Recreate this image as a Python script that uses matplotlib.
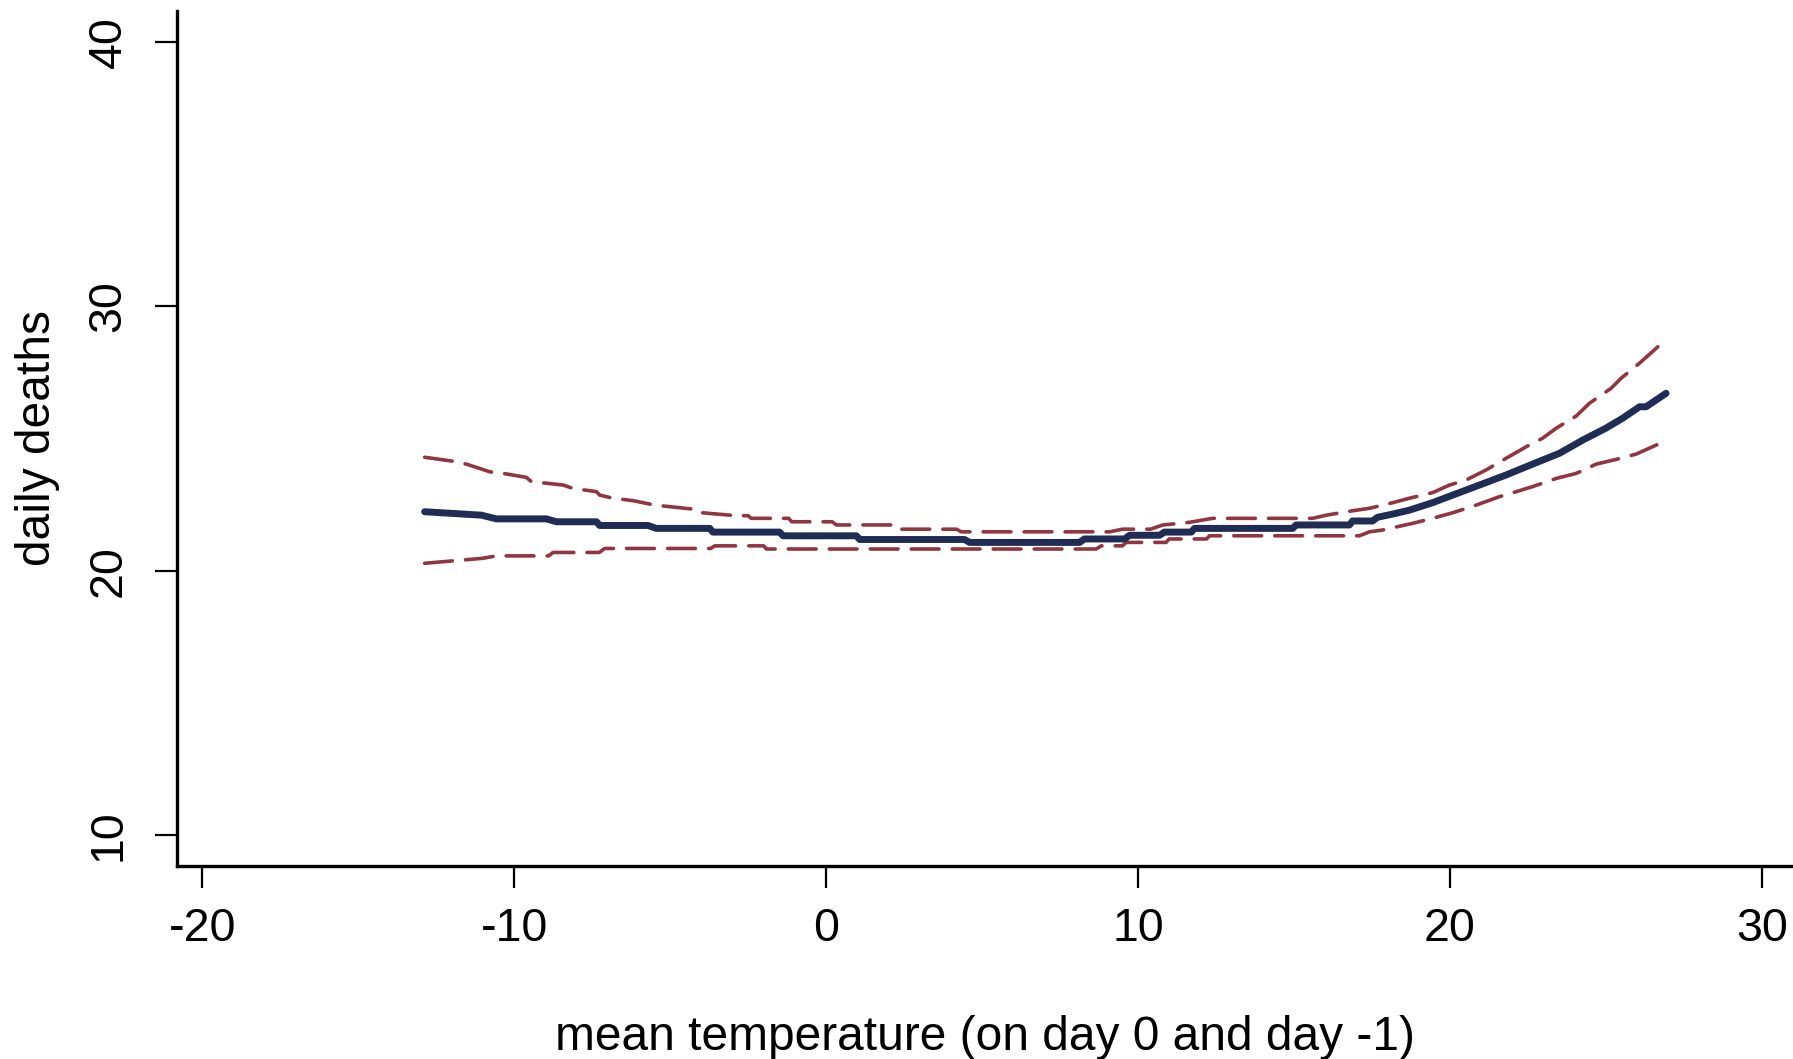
import matplotlib
matplotlib.use("Agg")
import matplotlib.pyplot as plt

plt.rcParams['font.family'] = ['Liberation Sans', 'DejaVu Sans']
plt.rcParams['axes.unicode_minus'] = False
plt.rcParams['lines.scale_dashes'] = False

# fitted curve
fit_x = [-12.87, -11.05, -10.57, -8.97, -8.64, -7.36, -7.26, -5.71, -5.44, -3.73, -3.63, -1.49,
         -1.38, 0.97, 1.08, 4.44, 4.60, 8.13, 8.28, 9.57, 9.73, 10.69, 10.85, 11.71, 11.81, 14.96,
         15.07, 16.78, 16.88, 17.52, 17.68, 18.16, 18.7, 19.44, 20.09, 20.95, 21.8, 22.65, 23.51,
         24.26, 25.0, 25.53, 26.08, 26.29, 26.93]
fit_y = [22.23, 22.10, 21.96, 21.96, 21.85, 21.85, 21.71, 21.71, 21.60, 21.60, 21.46, 21.46,
         21.32, 21.32, 21.18, 21.18, 21.07, 21.07, 21.20, 21.20, 21.34, 21.34, 21.46, 21.46, 21.60,
         21.60, 21.73, 21.73, 21.88, 21.88, 22.02, 22.14, 22.29, 22.57, 22.86, 23.24, 23.62, 24.03,
         24.44, 24.94, 25.39, 25.76, 26.2, 26.2, 26.71]

# upper confidence bound
up_x = [-12.87, -12.01, -11.53, -10.78, -10.25, -9.61, -9.45, -8.43, -8.11, -7.36, -7.26, -6.83,
        -6.19, -5.49, -4.27, -4.16, -2.88, -2.5, -2.4, -1.2, -1.1, 0.2, 0.33, 2.14, 2.25, 4.18,
        4.34, 9.09, 9.5, 10.4, 10.8, 11.65, 12.39, 15.6, 16.04, 16.68, 17.42, 18.16, 18.7, 19.44,
        19.99, 20.52, 21.16, 21.8, 22.45, 22.97, 23.41, 24.05, 24.47, 25.17, 25.49, 26.08, 26.5,
        26.93]
up_y = [24.29, 24.15, 24.03, 23.74, 23.66, 23.53, 23.37, 23.24, 23.11, 22.99, 22.86, 22.74,
        22.65, 22.48, 22.33, 22.21, 22.08, 22.08, 21.98, 21.98, 21.85, 21.85, 21.73, 21.73, 21.57,
        21.57, 21.47, 21.47, 21.57, 21.57, 21.73, 21.83, 21.98, 21.98, 22.10, 22.23, 22.36, 22.57,
        22.74, 22.95, 23.24, 23.43, 23.81, 24.25, 24.69, 25.01, 25.39, 25.85, 26.33, 26.9, 27.28,
        27.85, 28.29, 28.75]

# lower confidence bound
lo_x = [-12.87, -11.0, -10.57, -8.9, -8.75, -7.27, -7.1, -3.7, -3.57, -2.0, -1.91, 8.66, 8.82,
        9.5, 9.62, 10.9, 11.0, 12.2, 12.29, 17.1, 17.42, 17.85, 18.8, 19.44, 20.09, 20.84, 21.59,
        22.13, 22.65, 23.41, 24.05, 24.69, 25.33, 25.97, 26.5, 26.93]
lo_y = [20.28, 20.47, 20.56, 20.56, 20.69, 20.69, 20.84, 20.84, 20.94, 20.94, 20.82, 20.82, 20.94,
        20.94, 21.07, 21.07, 21.2, 21.2, 21.32, 21.32, 21.47, 21.54, 21.79, 21.98, 22.19, 22.48,
        22.8, 22.99, 23.18, 23.49, 23.68, 24.03, 24.21, 24.41, 24.69, 24.92]

x_ticks = [-20, -10, 0, 10, 20, 30]
y_ticks = [10, 20, 30, 40]

fig = plt.figure(figsize=(17.93, 10.59), dpi=100)
ax = fig.add_axes([177 / 1793, 1 - 866 / 1059, 1 - 177 / 1793, (866 - 11) / 1059])

red = '#913640'
navy = '#1F2D55'
ax.plot(up_x, up_y, color=red, lw=2.6, dashes=(20, 9.5), solid_capstyle='round', dash_capstyle='round')
ax.plot(lo_x, lo_y, color=red, lw=2.6, dashes=(20, 9.5), solid_capstyle='round', dash_capstyle='round')
ax.plot(fit_x, fit_y, color=navy, lw=5.0, solid_capstyle='round', solid_joinstyle='round')

ax.set_xlim(-20.81, 31.0)
ax.set_ylim(8.83, 41.17)
ax.set_xticks(x_ticks)
ax.set_yticks(y_ticks)
ax.set_xticklabels([str(t) for t in x_ticks])
ax.set_yticklabels([str(t) for t in y_ticks], rotation=90, va='center')

for s in ['top', 'right']:
    ax.spines[s].set_visible(False)
for s in ['left', 'bottom']:
    ax.spines[s].set_linewidth(2.4)
    ax.spines[s].set_color('black')

ax.tick_params(axis='both', direction='out', length=15.5, width=1.6, colors='black', labelsize=33.5)
ax.tick_params(axis='x', pad=14)
ax.tick_params(axis='y', pad=18)

ax.set_xlabel('mean temperature (on day 0 and day -1)', fontsize=34.5, labelpad=46)
ax.set_ylabel('daily deaths', fontsize=34.5, labelpad=19)

fig.savefig('out.png', dpi=100)
